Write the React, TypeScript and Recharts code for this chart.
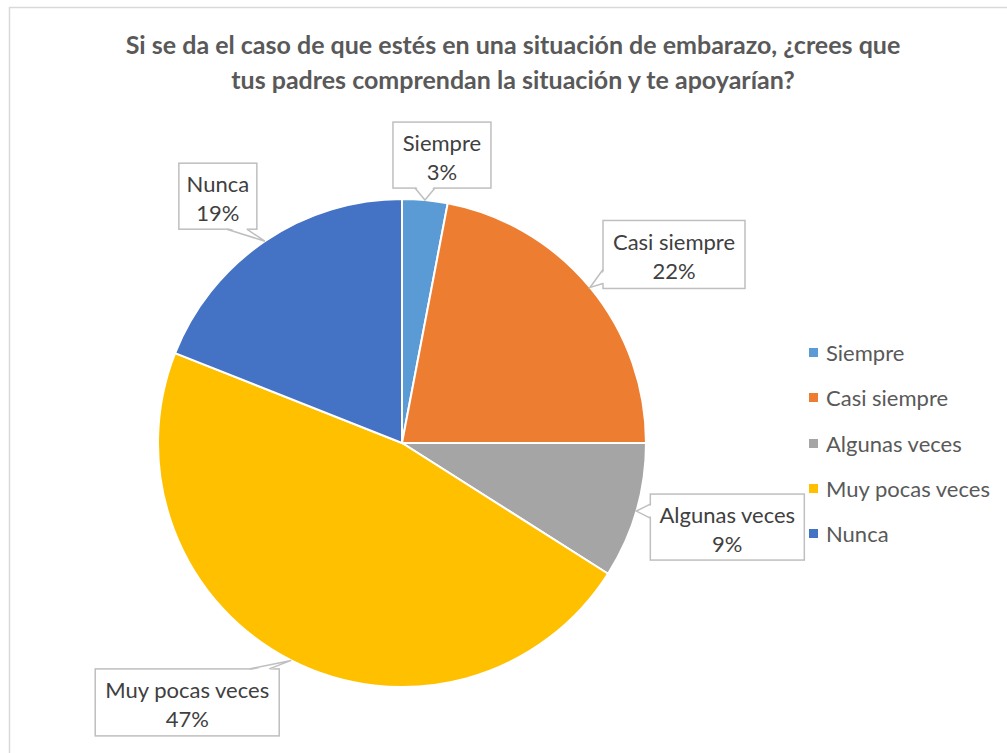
import React from "react";
import { PieChart, Pie, Cell, Legend } from "recharts";

const categories = ["Siempre", "Casi siempre", "Algunas veces", "Muy pocas veces", "Nunca"];
const values = [3, 22, 9, 47, 19];
const colors = ["#5B9BD5", "#ED7D31", "#A5A5A5", "#FFC000", "#4472C4"];
const titleLines = [
  "Si se da el caso de que estés en una situación de embarazo, ¿crees que",
  "tus padres comprendan la situación y te apoyarían?",
];

// callout layout: box center offset from the slice's outer-arc midpoint, and box size
const calloutOffsets: [number, number][] = [
  [17, -45],
  [84, -33],
  [91, 16],
  [-104, 42],
  [-47, -45],
];
const calloutSizes: [number, number][] = [
  [98, 66],
  [142, 68],
  [154, 66],
  [184, 67],
  [78, 66],
];

const data = categories.map((name, i) => ({ name, value: values[i] }));

const FONT = "Lato, 'Open Sans', sans-serif";
const RAD = Math.PI / 180;

const renderLabel = (props: any) => {
  const { cx, cy, midAngle, outerRadius, index, name, percent } = props;
  const tx = cx + outerRadius * Math.cos(-midAngle * RAD);
  const ty = cy + outerRadius * Math.sin(-midAngle * RAD);
  const [ox, oy] = calloutOffsets[index];
  const [w, h] = calloutSizes[index];
  const bx = tx + ox;
  const by = ty + oy;
  const left = bx - w / 2;
  const right = bx + w / 2;
  const top = by - h / 2;
  const bottom = by + h / 2;
  const half = 10;
  const clamp = (v: number, a: number, b: number) => Math.max(a, Math.min(b, v));
  let b1: [number, number];
  let b2: [number, number];
  let f1: [number, number];
  let f2: [number, number];
  if (ty < top) {
    const c = clamp(tx, left + 20, right - 20);
    b1 = [c - half, top];
    b2 = [c + half, top];
    f1 = [c - half + 1, top + 1.5];
    f2 = [c + half - 1, top + 1.5];
  } else if (ty > bottom) {
    const c = clamp(tx, left + 20, right - 20);
    b1 = [c - half, bottom];
    b2 = [c + half, bottom];
    f1 = [c - half + 1, bottom - 1.5];
    f2 = [c + half - 1, bottom - 1.5];
  } else if (tx < left) {
    const c = clamp(ty, top + 16, bottom - 12);
    b1 = [left, c - half * 0.7];
    b2 = [left, c + half * 0.7];
    f1 = [left + 1.5, c - half * 0.7 + 1];
    f2 = [left + 1.5, c + half * 0.7 - 1];
  } else {
    const c = clamp(ty, top + 16, bottom - 12);
    b1 = [right, c - half * 0.7];
    b2 = [right, c + half * 0.7];
    f1 = [right - 1.5, c - half * 0.7 + 1];
    f2 = [right - 1.5, c + half * 0.7 - 1];
  }
  const pct = Math.round(percent * 100) + "%";
  return (
    <g key={"callout-" + index}>
      <rect x={left} y={top} width={w} height={h} fill="#FFFFFF" stroke="#BFBFBF" strokeWidth={1.5} />
      <polygon points={`${f1[0]},${f1[1]} ${tx},${ty} ${f2[0]},${f2[1]}`} fill="#FFFFFF" stroke="none" />
      <polyline
        points={`${b1[0]},${b1[1]} ${tx},${ty} ${b2[0]},${b2[1]}`}
        fill="none"
        stroke="#BFBFBF"
        strokeWidth={1.5}
      />
      <text x={bx} y={by - 4} textAnchor="middle" fontFamily={FONT} fontSize={22} fill="#404040">
        {name}
      </text>
      <text x={bx} y={by + 25} textAnchor="middle" fontFamily={FONT} fontSize={22} fill="#404040">
        {pct}
      </text>
    </g>
  );
};

const renderLegend = (props: any) => {
  const payload = [...(props.payload || [])].sort(
    (a: any, b: any) => categories.indexOf(a.value) - categories.indexOf(b.value)
  );
  return (
    <div style={{ fontFamily: FONT }}>
      {payload.map((entry: any, i: number) => (
        <div key={i} style={{ height: 45.3, display: "flex", alignItems: "center" }}>
          <span
            style={{
              display: "inline-block",
              width: 9,
              height: 9,
              background: entry.color,
              marginRight: 8,
            }}
          />
          <span style={{ fontSize: 22, color: "#595959" }}>{entry.value}</span>
        </div>
      ))}
    </div>
  );
};

export default function App() {
  return (
    <div style={{ position: "absolute", left: 0, top: 0, width: 1007, height: 753, overflow: "hidden", background: "#fff" }}>
      <svg width={1007} height={753} style={{ position: "absolute", left: 0, top: 0 }}>
        <rect x={9.5} y={7.5} width={1020} height={780} fill="#FFFFFF" stroke="#D9D9D9" strokeWidth={1.5} />
        {titleLines.map((t, i) => (
          <text
            key={i}
            x={513}
            y={54 + i * 35}
            textAnchor="middle"
            fontFamily={FONT}
            fontWeight="bold"
            fontSize={25}
            fill="#595959"
          >
            {t}
          </text>
        ))}
      </svg>
      <div style={{ position: "absolute", left: 0, top: 0 }}>
        <PieChart width={1007} height={753} margin={{ top: 0, right: 0, bottom: 0, left: 0 }}>
          <Pie
            data={data}
            dataKey="value"
            nameKey="name"
            cx={402}
            cy={443}
            outerRadius={244}
            startAngle={90}
            endAngle={-270}
            stroke="#FFFFFF"
            strokeWidth={2}
            label={renderLabel}
            labelLine={false}
            isAnimationActive={false}
          >
            {data.map((d, i) => (
              <Cell key={d.name} fill={colors[i]} />
            ))}
          </Pie>
          <Legend
            layout="vertical"
            content={renderLegend}
            itemSorter={null as any}
            wrapperStyle={{ left: 809, top: 330, width: 195 }}
          />
        </PieChart>
      </div>
    </div>
  );
}
